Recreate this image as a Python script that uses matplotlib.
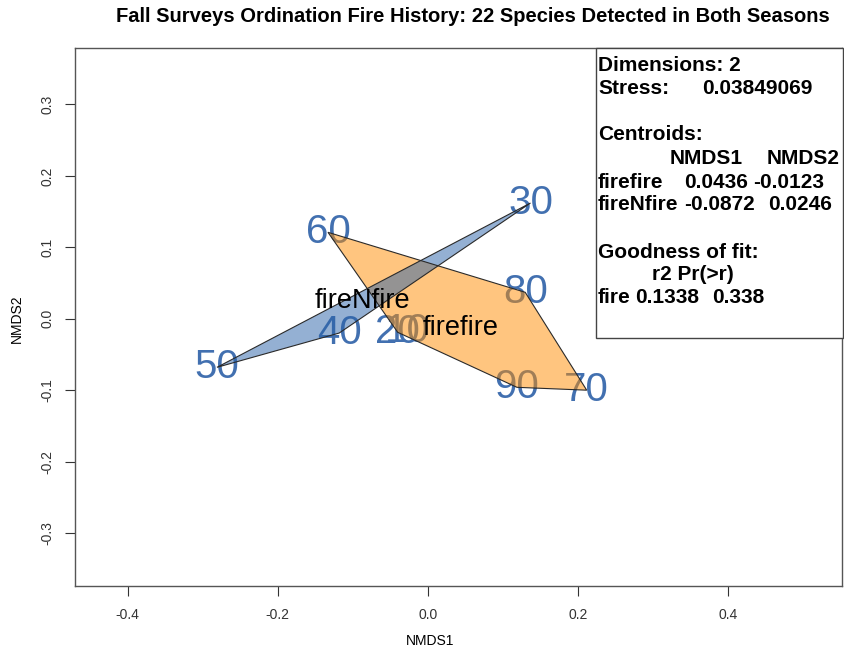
import matplotlib.pyplot as plt
import numpy as np

# --- DATA ---
sites = ['10', '20', '30', '40', '50', '60', '70', '80', '90']
nmds1 = [-0.027, -0.040, 0.137, -0.118, -0.281, -0.133, 0.212, 0.130, 0.119]
nmds2 = [-0.017, -0.019, 0.162, -0.020, -0.068, 0.121, -0.100, 0.037, -0.096]
fire = ['firefire', 'firefire', 'fireNfire', 'fireNfire', 'fireNfire',
        'firefire', 'firefire', 'firefire', 'firefire']

levels = ['firefire', 'fireNfire']
centroid1 = [0.0436, -0.0872]
centroid2 = [-0.0123, 0.0246]

stress = 0.03849069
fit_r2 = 0.1338
fit_p = 0.338

xticks = [-0.4, -0.2, 0.0, 0.2, 0.4]
yticks = [-0.3, -0.2, -0.1, 0.0, 0.1, 0.2, 0.3]

W, H = 844, 651
FONT = 'Liberation Sans'
plt.rcParams['font.family'] = [FONT, 'DejaVu Sans']


def hull(pts):
    # monotone chain convex hull
    pts = sorted(set(pts))
    if len(pts) < 3:
        return pts

    def cross(o, a, b):
        return (a[0] - o[0]) * (b[1] - o[1]) - (a[1] - o[1]) * (b[0] - o[0])

    lower, upper = [], []
    for p in pts:
        while len(lower) >= 2 and cross(lower[-2], lower[-1], p) <= 0:
            lower.pop()
        lower.append(p)
    for p in reversed(pts):
        while len(upper) >= 2 and cross(upper[-2], upper[-1], p) <= 0:
            upper.pop()
        upper.append(p)
    return lower[:-1] + upper[:-1]


def fx(px):
    return px / W


def fy(py):
    return 1 - py / H


fig = plt.figure(figsize=(W / 100, H / 100), dpi=100)
fig.patch.set_facecolor('white')
ax = fig.add_axes([fx(75), fy(585.7), (842 - 75) / W, (585.7 - 48) / H])

ax.set_xlim(-0.4703, 0.5524)
ax.set_ylim(-0.3737, 0.379)

# site labels first, hulls drawn over them
for s, x, y in zip(sites, nmds1, nmds2):
    ax.text(x, y, s, ha='center', va='center', fontsize=29,
            color='#4270b0', zorder=2)

hull_colors = {'firefire': '#ff8c00', 'fireNfire': '#2a62a8'}
for lev in levels:
    pts = [(x, y) for x, y, g in zip(nmds1, nmds2, fire) if g == lev]
    poly = plt.Polygon(hull(pts), closed=True, facecolor=hull_colors[lev],
                       alpha=0.5, edgecolor='none', zorder=3)
    ax.add_patch(poly)
    edge = plt.Polygon(hull(pts), closed=True, facecolor='none',
                       edgecolor='#2a2a2a', linewidth=0.8, zorder=4)
    ax.add_patch(edge)

for lev, cx, cy in zip(levels, centroid1, centroid2):
    ax.text(cx, cy, lev, ha='center', va='center', fontsize=19.5,
            color='black', zorder=5)

ax.set_xticks(xticks)
ax.set_yticks(yticks)
ax.set_xticklabels([f'{t:.1f}' for t in xticks], fontsize=10)
ax.set_yticklabels([f'{t:.1f}' for t in yticks], fontsize=10,
                   rotation=90, va='center')
ax.tick_params(direction='out', length=7, width=0.8, colors='#333333',
               pad=9)
ax.tick_params(axis='y', pad=8)
for sp in ax.spines.values():
    sp.set_color('#555555')
    sp.set_linewidth(1.0)

fig.text(fx(430), fy(641), 'NMDS1', ha='center', va='center', fontsize=10)
fig.text(fx(17), fy(319), 'NMDS2', ha='center', va='center', fontsize=10,
         rotation=90)
fig.text(fx(473), fy(17), 'Fall Surveys Ordination Fire History: '
         '22 Species Detected in Both Seasons', ha='center', va='center',
         fontsize=14.5, fontweight='bold')

# summary box in the upper right
box = plt.Rectangle((fx(595.7), fy(338)), fx(843) - fx(595.7),
                    fy(48) - fy(338), transform=fig.transFigure,
                    facecolor='white', edgecolor='#444444', linewidth=1.0,
                    zorder=10)
fig.patches.append(box)

lines = [
    (598, 65.7, 'Dimensions: 2'),
    (598, 88, 'Stress:'),
    (702, 88, f'{stress:.8f}'),
    (598, 135, 'Centroids:'),
    (670, 158, 'NMDS1'),
    (767, 158, 'NMDS2'),
    (598, 182, levels[0]),
    (684, 182, f'{centroid1[0]:.4f}'),
    (753, 182, f'{centroid2[0]:.4f}'),
    (598, 204, levels[1]),
    (684, 204, f'{centroid1[1]:.4f}'),
    (768, 204, f'{centroid2[1]:.4f}'),
    (598, 253, 'Goodness of fit:'),
    (652, 275, 'r2 Pr(>r)'),
    (598, 298, 'fire'),
    (635, 298, f'{fit_r2:.4f}'),
    (712, 298, f'{fit_p:.3f}'),
]
for px, py, s in lines:
    fig.text(fx(px), fy(py), s, ha='left', va='center', fontsize=15,
             fontweight='bold', zorder=11)

fig.savefig('out.png', dpi=100, facecolor='white')
